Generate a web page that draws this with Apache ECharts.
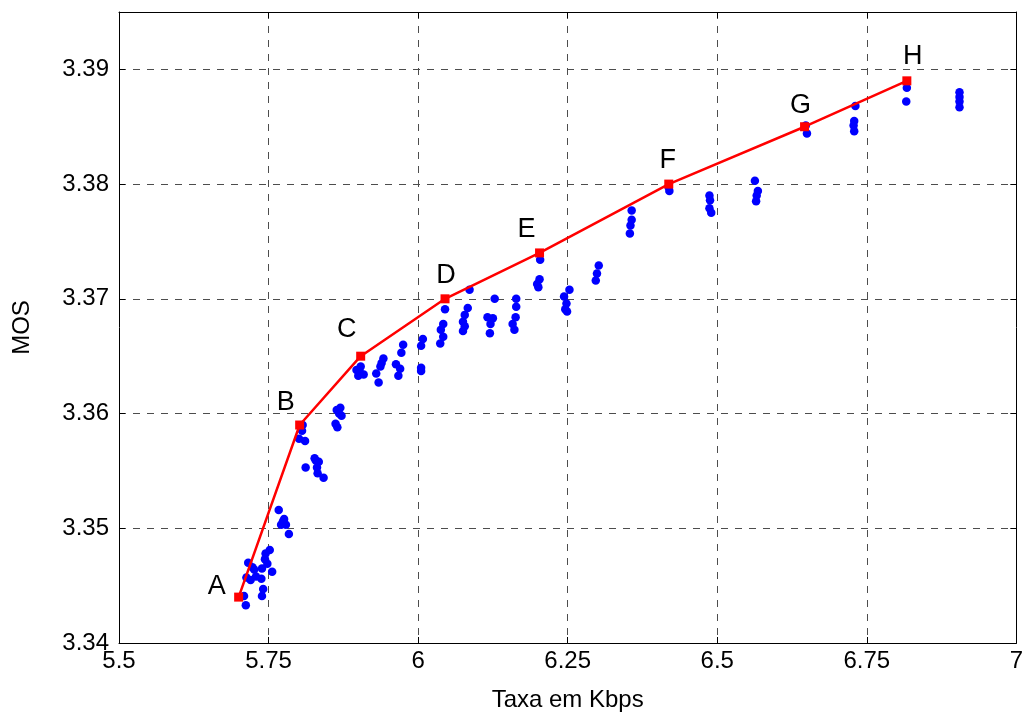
<!DOCTYPE html>
<html>
<head>
<meta charset="utf-8">
<script src="https://cdn.jsdelivr.net/npm/echarts@6/dist/echarts.min.js"></script>
<style>
  html, body { margin: 0; padding: 0; background: #fff; }
  #chart { width: 1026px; height: 717px; }
</style>
</head>
<body>
<div id="chart"></div>
<script>
// ---- Data ----
const xTicks = [5.5, 5.75, 6, 6.25, 6.5, 6.75, 7];
const yTicks = [3.34, 3.35, 3.36, 3.37, 3.38, 3.39];

// Red frontier line (operating points A..H)
const frontierLabels = ['A', 'B', 'C', 'D', 'E', 'F', 'G', 'H'];
const frontierRate = [5.700, 5.802, 5.904, 6.045, 6.203, 6.419, 6.646, 6.817];
const frontierMOS  = [3.3440, 3.3590, 3.3650, 3.3700, 3.3740, 3.3800, 3.3850, 3.3890];

// Blue scatter points (rate, MOS)
const scatterRate = [
  5.712, 5.709, 5.716, 5.723, 5.726, 5.713, 5.729, 5.738, 5.741, 5.739, 5.744, 5.748, 5.752, 5.739, 5.756, 5.720, 5.745,
  5.767, 5.776, 5.771, 5.779, 5.784, 5.774,
  5.806, 5.801, 5.811, 5.807,
  5.812, 5.827, 5.834, 5.832, 5.842, 5.831, 5.829,
  5.870, 5.872, 5.862, 5.865, 5.864, 5.868,
  5.904, 5.900, 5.909, 5.897, 5.902,
  5.942, 5.937, 5.930, 5.934, 5.939,
  5.975, 5.972, 5.963, 5.970, 5.967,
  6.008, 6.005, 6.005, 6.005,
  6.045, 6.042, 6.038, 6.042, 6.037,
  6.086, 6.083, 6.078, 6.075, 6.078, 6.075,
  6.128, 6.116, 6.125, 6.121, 6.120,
  6.164, 6.164, 6.163, 6.158, 6.161,
  6.204, 6.203, 6.199, 6.201,
  6.253, 6.244, 6.248, 6.246, 6.249,
  6.302, 6.299, 6.297,
  6.357, 6.357, 6.355, 6.354,
  6.419, 6.420,
  6.487, 6.488, 6.487, 6.490,
  6.563, 6.568, 6.566, 6.565,
  6.648, 6.650,
  6.731, 6.729, 6.728, 6.729,
  6.817, 6.816,
  6.905, 6.905, 6.905, 6.905
];
const scatterMOS = [
  3.3433, 3.3441, 3.3470, 3.3466, 3.3464, 3.3457, 3.3458, 3.3456, 3.3447, 3.3441, 3.3473, 3.3469, 3.3481, 3.3465, 3.3462, 3.3455, 3.3478,
  3.3516, 3.3508, 3.3503, 3.3503, 3.3495, 3.3506,
  3.3585, 3.3578, 3.3576, 3.3590,
  3.3553, 3.3561, 3.3558, 3.3548, 3.3544, 3.3553, 3.3559,
  3.3605, 3.3598, 3.3591, 3.3588, 3.3603, 3.3600,
  3.3641, 3.3633, 3.3634, 3.3638, 3.3637,
  3.3648, 3.3641, 3.3635, 3.3627, 3.3644,
  3.3660, 3.3653, 3.3643, 3.3639, 3.3633,
  3.3665, 3.3659, 3.3640, 3.3637,
  3.3691, 3.3678, 3.3673, 3.3667, 3.3661,
  3.3708, 3.3692, 3.3686, 3.3680, 3.3676, 3.3672,
  3.3700, 3.3684, 3.3683, 3.3678, 3.3670,
  3.3700, 3.3693, 3.3684, 3.3678, 3.3673,
  3.3734, 3.3717, 3.3713, 3.3710,
  3.3708, 3.3702, 3.3696, 3.3691, 3.3689,
  3.3729, 3.3722, 3.3716,
  3.3777, 3.3769, 3.3764, 3.3757,
  3.3797, 3.3794,
  3.3790, 3.3786, 3.3779, 3.3775,
  3.3803, 3.3794, 3.3790, 3.3785,
  3.3851, 3.3844,
  3.3868, 3.3855, 3.3851, 3.3846,
  3.3884, 3.3872,
  3.3880, 3.3876, 3.3872, 3.3867
];

// ---- Styling (label offsets for the A..H letters, in px) ----
const letterOffsets = [[-22, -11], [-14, -22], [-14, -27], [1, -23], [-13, -23], [-1, -24], [-4, -21], [6, -24]];

const FONT = 'Liberation Sans, Arial, sans-serif';
const chart = echarts.init(document.getElementById('chart'), null, { renderer: 'canvas' });

const scatterData = scatterRate.map((x, i) => [x, scatterMOS[i]]);
const lineData = frontierRate.map((x, i) => ({
  value: [x, frontierMOS[i]],
  label: {
    show: true,
    formatter: frontierLabels[i],
    position: 'inside',
    offset: letterOffsets[i],
    color: '#000',
    fontSize: 27,
    fontFamily: FONT
  }
}));

const axisLineStyle = { show: true, lineStyle: { color: '#000', width: 1 } };
const gridDash = { show: true, lineStyle: { color: '#4d4d4d', width: 1, type: [7, 7] } };

chart.setOption({
  animation: false,
  backgroundColor: '#fff',
  grid: { left: 119, right: 4, top: 12, bottom: 67 },
  xAxis: [{
    type: 'value', min: 5.5, max: 7, interval: 0.25,
    axisLine: axisLineStyle,
    axisTick: { show: true, inside: true, length: 6, lineStyle: { color: '#000' } },
    splitLine: gridDash,
    axisLabel: {
      color: '#000', fontSize: 24, fontFamily: FONT, margin: 6,
      formatter: v => xTicks.some(t => Math.abs(t - v) < 1e-9) ? String(+v.toFixed(2)) : ''
    },
    name: 'Taxa em Kbps', nameLocation: 'middle', nameGap: 45,
    nameTextStyle: { color: '#000', fontSize: 24, fontFamily: FONT }
  }, {
    type: 'value', min: 5.5, max: 7, interval: 0.25, position: 'top',
    axisLine: axisLineStyle,
    axisTick: { show: true, inside: true, length: 6, lineStyle: { color: '#000' } },
    splitLine: { show: false }, axisLabel: { show: false }
  }],
  yAxis: [{
    type: 'value', min: 3.34, max: 3.395, interval: 0.01,
    axisLine: axisLineStyle,
    axisTick: { show: true, inside: true, length: 6, lineStyle: { color: '#000' } },
    splitLine: gridDash,
    axisLabel: {
      color: '#000', fontSize: 24, fontFamily: FONT, margin: 10,
      formatter: v => yTicks.some(t => Math.abs(t - v) < 1e-9) ? v.toFixed(2) : ''
    },
    name: 'MOS', nameLocation: 'middle', nameGap: 85, nameRotate: 90,
    nameTextStyle: { color: '#000', fontSize: 24, fontFamily: FONT }
  }, {
    type: 'value', min: 3.34, max: 3.395, interval: 0.01, position: 'right',
    axisLine: axisLineStyle,
    axisTick: { show: true, inside: true, length: 6, lineStyle: { color: '#000' } },
    splitLine: { show: false }, axisLabel: { show: false }
  }],
  series: [{
    type: 'scatter',
    data: scatterData,
    symbol: 'circle',
    symbolSize: 8.5,
    itemStyle: { color: '#0000ff', opacity: 1 },
    z: 2
  }, {
    type: 'line',
    data: lineData,
    symbol: 'rect',
    symbolSize: 9,
    lineStyle: { color: '#ff0000', width: 2.5 },
    itemStyle: { color: '#ff0000', opacity: 1 },
    z: 3
  }]
});
</script>
</body>
</html>
